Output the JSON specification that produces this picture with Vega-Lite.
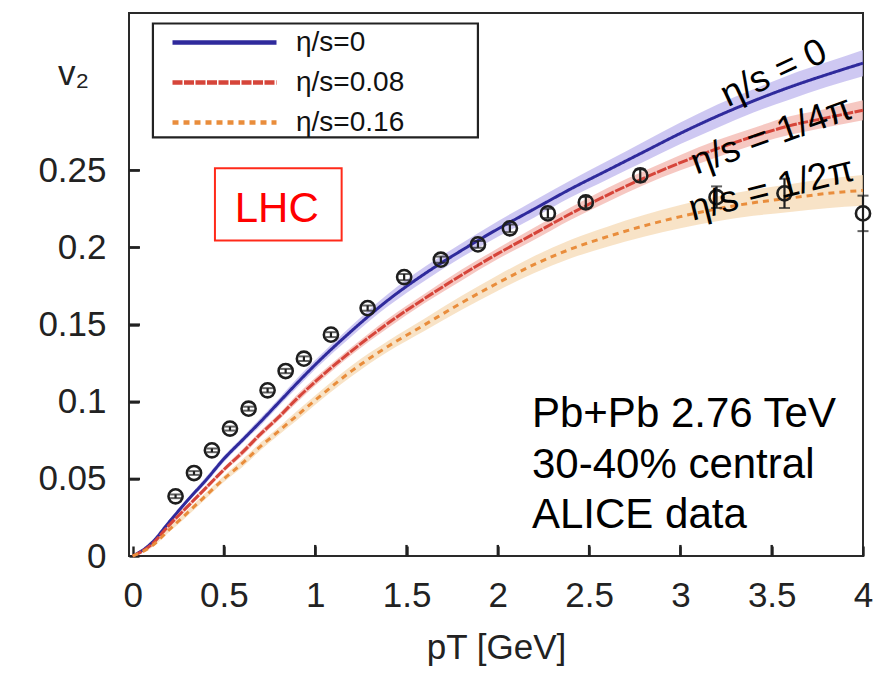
{
  "$schema": "https://vega.github.io/schema/vega-lite/v6.json",
  "width": 734,
  "height": 543,
  "autosize": {"type": "none"},
  "padding": {"left": 129, "top": 13, "right": 24, "bottom": 123},
  "background": "white",
  "config": {
    "font": "Liberation Sans",
    "view": {"stroke": "#2a2a2a", "strokeWidth": 2},
    "axis": {
      "domain": false,
      "grid": false,
      "ticks": true,
      "tickSize": 10,
      "tickWidth": 2.4,
      "tickColor": "#222222",
      "tickOpacity": 1,
      "offset": -10,
      "zindex": 3,
      "labelFont": "Liberation Sans",
      "labelFontSize": 35,
      "labelColor": "#222222",
      "labelFlush": false,
      "labelOverlap": false,
      "labelBound": false,
      "titleFont": "Liberation Sans",
      "titleFontSize": 35,
      "titleFontWeight": "normal",
      "titleColor": "#222222"
    }
  },
  "datasets": {
    "curves": [
      {"model": "η/s=0", "pt": 0, "v2": 0, "lo": 0, "hi": 0},
      {"model": "η/s=0", "pt": 0.1, "v2": 0.008, "lo": 0.007, "hi": 0.009},
      {"model": "η/s=0", "pt": 0.2, "v2": 0.022, "lo": 0.0205, "hi": 0.0235},
      {"model": "η/s=0", "pt": 0.3, "v2": 0.036, "lo": 0.0345, "hi": 0.0375},
      {"model": "η/s=0", "pt": 0.4, "v2": 0.049, "lo": 0.047, "hi": 0.051},
      {"model": "η/s=0", "pt": 0.5, "v2": 0.063, "lo": 0.061, "hi": 0.065},
      {"model": "η/s=0", "pt": 0.6, "v2": 0.075, "lo": 0.073, "hi": 0.077},
      {"model": "η/s=0", "pt": 0.7, "v2": 0.087, "lo": 0.0845, "hi": 0.0895},
      {"model": "η/s=0", "pt": 0.8, "v2": 0.0995, "lo": 0.097, "hi": 0.102},
      {"model": "η/s=0", "pt": 0.9, "v2": 0.112, "lo": 0.109, "hi": 0.115},
      {"model": "η/s=0", "pt": 1.0, "v2": 0.124, "lo": 0.121, "hi": 0.127},
      {"model": "η/s=0", "pt": 1.2, "v2": 0.146, "lo": 0.1425, "hi": 0.1495},
      {"model": "η/s=0", "pt": 1.4, "v2": 0.166, "lo": 0.162, "hi": 0.170},
      {"model": "η/s=0", "pt": 1.6, "v2": 0.183, "lo": 0.1785, "hi": 0.1875},
      {"model": "η/s=0", "pt": 1.8, "v2": 0.198, "lo": 0.1935, "hi": 0.2025},
      {"model": "η/s=0", "pt": 2.0, "v2": 0.212, "lo": 0.207, "hi": 0.217},
      {"model": "η/s=0", "pt": 2.2, "v2": 0.225, "lo": 0.2195, "hi": 0.2305},
      {"model": "η/s=0", "pt": 2.4, "v2": 0.238, "lo": 0.2325, "hi": 0.2435},
      {"model": "η/s=0", "pt": 2.6, "v2": 0.250, "lo": 0.244, "hi": 0.256},
      {"model": "η/s=0", "pt": 2.8, "v2": 0.262, "lo": 0.2555, "hi": 0.2685},
      {"model": "η/s=0", "pt": 3.0, "v2": 0.274, "lo": 0.267, "hi": 0.281},
      {"model": "η/s=0", "pt": 3.2, "v2": 0.285, "lo": 0.2775, "hi": 0.2925},
      {"model": "η/s=0", "pt": 3.4, "v2": 0.295, "lo": 0.2875, "hi": 0.3025},
      {"model": "η/s=0", "pt": 3.6, "v2": 0.304, "lo": 0.296, "hi": 0.312},
      {"model": "η/s=0", "pt": 3.8, "v2": 0.312, "lo": 0.304, "hi": 0.320},
      {"model": "η/s=0", "pt": 4.0, "v2": 0.3195, "lo": 0.311, "hi": 0.328},
      {"model": "η/s=0.08", "pt": 0, "v2": 0, "lo": 0, "hi": 0},
      {"model": "η/s=0.08", "pt": 0.1, "v2": 0.007, "lo": 0.006, "hi": 0.008},
      {"model": "η/s=0.08", "pt": 0.2, "v2": 0.020, "lo": 0.0185, "hi": 0.0215},
      {"model": "η/s=0.08", "pt": 0.3, "v2": 0.032, "lo": 0.0305, "hi": 0.0335},
      {"model": "η/s=0.08", "pt": 0.4, "v2": 0.044, "lo": 0.0425, "hi": 0.0455},
      {"model": "η/s=0.08", "pt": 0.5, "v2": 0.056, "lo": 0.0545, "hi": 0.0575},
      {"model": "η/s=0.08", "pt": 0.6, "v2": 0.067, "lo": 0.065, "hi": 0.069},
      {"model": "η/s=0.08", "pt": 0.7, "v2": 0.079, "lo": 0.077, "hi": 0.081},
      {"model": "η/s=0.08", "pt": 0.8, "v2": 0.090, "lo": 0.088, "hi": 0.092},
      {"model": "η/s=0.08", "pt": 0.9, "v2": 0.102, "lo": 0.0995, "hi": 0.1045},
      {"model": "η/s=0.08", "pt": 1.0, "v2": 0.113, "lo": 0.1105, "hi": 0.1155},
      {"model": "η/s=0.08", "pt": 1.2, "v2": 0.133, "lo": 0.1305, "hi": 0.1355},
      {"model": "η/s=0.08", "pt": 1.4, "v2": 0.151, "lo": 0.148, "hi": 0.154},
      {"model": "η/s=0.08", "pt": 1.6, "v2": 0.167, "lo": 0.164, "hi": 0.170},
      {"model": "η/s=0.08", "pt": 1.8, "v2": 0.182, "lo": 0.1785, "hi": 0.1855},
      {"model": "η/s=0.08", "pt": 2.0, "v2": 0.196, "lo": 0.1925, "hi": 0.1995},
      {"model": "η/s=0.08", "pt": 2.2, "v2": 0.209, "lo": 0.205, "hi": 0.213},
      {"model": "η/s=0.08", "pt": 2.4, "v2": 0.222, "lo": 0.218, "hi": 0.226},
      {"model": "η/s=0.08", "pt": 2.6, "v2": 0.234, "lo": 0.2295, "hi": 0.2385},
      {"model": "η/s=0.08", "pt": 2.8, "v2": 0.245, "lo": 0.2405, "hi": 0.2495},
      {"model": "η/s=0.08", "pt": 3.0, "v2": 0.255, "lo": 0.250, "hi": 0.260},
      {"model": "η/s=0.08", "pt": 3.2, "v2": 0.264, "lo": 0.2585, "hi": 0.2695},
      {"model": "η/s=0.08", "pt": 3.4, "v2": 0.272, "lo": 0.2665, "hi": 0.2775},
      {"model": "η/s=0.08", "pt": 3.6, "v2": 0.279, "lo": 0.273, "hi": 0.285},
      {"model": "η/s=0.08", "pt": 3.8, "v2": 0.284, "lo": 0.278, "hi": 0.290},
      {"model": "η/s=0.08", "pt": 4.0, "v2": 0.289, "lo": 0.2825, "hi": 0.2955},
      {"model": "η/s=0.16", "pt": 0, "v2": 0, "lo": 0, "hi": 0},
      {"model": "η/s=0.16", "pt": 0.1, "v2": 0.006, "lo": 0.005, "hi": 0.007},
      {"model": "η/s=0.16", "pt": 0.2, "v2": 0.017, "lo": 0.0155, "hi": 0.0185},
      {"model": "η/s=0.16", "pt": 0.3, "v2": 0.028, "lo": 0.026, "hi": 0.030},
      {"model": "η/s=0.16", "pt": 0.4, "v2": 0.039, "lo": 0.037, "hi": 0.041},
      {"model": "η/s=0.16", "pt": 0.5, "v2": 0.050, "lo": 0.048, "hi": 0.052},
      {"model": "η/s=0.16", "pt": 0.6, "v2": 0.060, "lo": 0.0575, "hi": 0.0625},
      {"model": "η/s=0.16", "pt": 0.7, "v2": 0.071, "lo": 0.0685, "hi": 0.0735},
      {"model": "η/s=0.16", "pt": 0.8, "v2": 0.081, "lo": 0.0785, "hi": 0.0835},
      {"model": "η/s=0.16", "pt": 0.9, "v2": 0.091, "lo": 0.088, "hi": 0.094},
      {"model": "η/s=0.16", "pt": 1.0, "v2": 0.101, "lo": 0.098, "hi": 0.104},
      {"model": "η/s=0.16", "pt": 1.2, "v2": 0.120, "lo": 0.1165, "hi": 0.1235},
      {"model": "η/s=0.16", "pt": 1.4, "v2": 0.136, "lo": 0.1325, "hi": 0.1395},
      {"model": "η/s=0.16", "pt": 1.6, "v2": 0.150, "lo": 0.146, "hi": 0.154},
      {"model": "η/s=0.16", "pt": 1.8, "v2": 0.164, "lo": 0.1595, "hi": 0.1685},
      {"model": "η/s=0.16", "pt": 2.0, "v2": 0.177, "lo": 0.172, "hi": 0.182},
      {"model": "η/s=0.16", "pt": 2.2, "v2": 0.189, "lo": 0.1835, "hi": 0.1945},
      {"model": "η/s=0.16", "pt": 2.4, "v2": 0.199, "lo": 0.193, "hi": 0.205},
      {"model": "η/s=0.16", "pt": 2.6, "v2": 0.207, "lo": 0.2005, "hi": 0.2135},
      {"model": "η/s=0.16", "pt": 2.8, "v2": 0.214, "lo": 0.207, "hi": 0.221},
      {"model": "η/s=0.16", "pt": 3.0, "v2": 0.220, "lo": 0.2125, "hi": 0.2275},
      {"model": "η/s=0.16", "pt": 3.2, "v2": 0.225, "lo": 0.217, "hi": 0.233},
      {"model": "η/s=0.16", "pt": 3.4, "v2": 0.229, "lo": 0.2205, "hi": 0.2375},
      {"model": "η/s=0.16", "pt": 3.6, "v2": 0.232, "lo": 0.223, "hi": 0.241},
      {"model": "η/s=0.16", "pt": 3.8, "v2": 0.235, "lo": 0.2255, "hi": 0.2445},
      {"model": "η/s=0.16", "pt": 4.0, "v2": 0.237, "lo": 0.227, "hi": 0.247}
    ],
    "alice": [
      {"pt": 0.235, "v2": 0.0387, "lo": 0.0375, "hi": 0.0399},
      {"pt": 0.336, "v2": 0.0538, "lo": 0.0526, "hi": 0.0550},
      {"pt": 0.434, "v2": 0.0685, "lo": 0.0673, "hi": 0.0697},
      {"pt": 0.533, "v2": 0.0826, "lo": 0.0813, "hi": 0.0839},
      {"pt": 0.635, "v2": 0.0955, "lo": 0.0942, "hi": 0.0968},
      {"pt": 0.739, "v2": 0.1074, "lo": 0.1060, "hi": 0.1088},
      {"pt": 0.838, "v2": 0.1199, "lo": 0.1185, "hi": 0.1213},
      {"pt": 0.938, "v2": 0.1279, "lo": 0.1264, "hi": 0.1294},
      {"pt": 1.086, "v2": 0.1435, "lo": 0.1419, "hi": 0.1451},
      {"pt": 1.287, "v2": 0.1607, "lo": 0.1590, "hi": 0.1624},
      {"pt": 1.487, "v2": 0.1808, "lo": 0.1788, "hi": 0.1828},
      {"pt": 1.688, "v2": 0.1921, "lo": 0.1901, "hi": 0.1941},
      {"pt": 1.891, "v2": 0.2020, "lo": 0.1998, "hi": 0.2042},
      {"pt": 2.066, "v2": 0.2124, "lo": 0.2099, "hi": 0.2149},
      {"pt": 2.274, "v2": 0.2221, "lo": 0.2191, "hi": 0.2251},
      {"pt": 2.482, "v2": 0.2292, "lo": 0.2257, "hi": 0.2327},
      {"pt": 2.780, "v2": 0.2467, "lo": 0.2427, "hi": 0.2507},
      {"pt": 3.198, "v2": 0.2326, "lo": 0.2256, "hi": 0.2396},
      {"pt": 3.570, "v2": 0.2351, "lo": 0.2256, "hi": 0.2446},
      {"pt": 4.000, "v2": 0.2221, "lo": 0.2106, "hi": 0.2336}
    ],
    "xticks": [
      {"pt": 0.5, "v2": 0.0036}, {"pt": 1, "v2": 0.0036}, {"pt": 1.5, "v2": 0.0036}, {"pt": 2, "v2": 0.0036},
      {"pt": 2.5, "v2": 0.0036}, {"pt": 3, "v2": 0.0036}, {"pt": 3.5, "v2": 0.0036}
    ],
    "yticks": [
      {"pt": 0.01, "v2": 0.05}, {"pt": 0.01, "v2": 0.1}, {"pt": 0.01, "v2": 0.15}, {"pt": 0.01, "v2": 0.2}, {"pt": 0.01, "v2": 0.25}
    ]
  },
  "layer": [
    {
      "data": {"values": [{"x1": 0.111, "x2": 1.891, "y1": 0.2714, "y2": 0.3452}]},
      "mark": {"type": "rect", "fill": "white", "stroke": "#222222", "strokeWidth": 2.2},
      "encoding": {
        "x": {"field": "x1", "type": "quantitative", "scale": {"domain": [-0.02, 4.0], "nice": false, "zero": false},
              "axis": {"values": [0, 0.5, 1, 1.5, 2, 2.5, 3, 3.5, 4], "format": "~g", "labelPadding": 22, "title": "pT [GeV]", "titlePadding": 17}},
        "x2": {"field": "x2"},
        "y": {"field": "y1", "type": "quantitative", "scale": {"domain": [0, 0.352], "nice": false, "zero": false},
              "axis": {"values": [0, 0.05, 0.1, 0.15, 0.2, 0.25], "format": "~g", "labelPadding": 23, "title": "v₂", "titleAngle": 0, "titleX": -66, "titleY": 60, "titleAlign": "center", "titleBaseline": "middle"}},
        "y2": {"field": "y2"}
      }
    },
    {
      "data": {"name": "xticks"},
      "mark": {"type": "tick", "orient": "vertical", "color": "#222222", "size": 11, "thickness": 2.4, "opacity": 1},
      "encoding": {
        "x": {"field": "pt", "type": "quantitative"},
        "y": {"field": "v2", "type": "quantitative"}
      }
    },
    {
      "data": {"name": "yticks"},
      "mark": {"type": "tick", "orient": "horizontal", "color": "#222222", "size": 11, "thickness": 2.4, "opacity": 1},
      "encoding": {
        "x": {"field": "pt", "type": "quantitative"},
        "y": {"field": "v2", "type": "quantitative"}
      }
    },
    {
      "data": {"name": "curves"},
      "transform": [{"filter": "datum.model === 'η/s=0'"}],
      "mark": {"type": "area", "interpolate": "monotone", "color": "#bdb6ee", "opacity": 0.75},
      "encoding": {
        "x": {"field": "pt", "type": "quantitative"},
        "y": {"field": "lo", "type": "quantitative"},
        "y2": {"field": "hi"}
      }
    },
    {
      "data": {"name": "curves"},
      "transform": [{"filter": "datum.model === 'η/s=0.08'"}],
      "mark": {"type": "area", "interpolate": "monotone", "color": "#f3b6ad", "opacity": 0.75},
      "encoding": {
        "x": {"field": "pt", "type": "quantitative"},
        "y": {"field": "lo", "type": "quantitative"},
        "y2": {"field": "hi"}
      }
    },
    {
      "data": {"name": "curves"},
      "transform": [{"filter": "datum.model === 'η/s=0.16'"}],
      "mark": {"type": "area", "interpolate": "monotone", "color": "#f6d9b4", "opacity": 0.75},
      "encoding": {
        "x": {"field": "pt", "type": "quantitative"},
        "y": {"field": "lo", "type": "quantitative"},
        "y2": {"field": "hi"}
      }
    },
    {
      "data": {"name": "curves"},
      "mark": {"type": "line", "interpolate": "monotone", "strokeWidth": 3},
      "encoding": {
        "x": {"field": "pt", "type": "quantitative"},
        "y": {"field": "v2", "type": "quantitative"},
        "stroke": {"field": "model", "type": "nominal",
          "scale": {"domain": ["η/s=0", "η/s=0.08", "η/s=0.16"], "range": ["#2f2a9c", "#d6453a", "#e98d3c"]},
          "legend": {"orient": "none", "legendX": 44, "legendY": 14, "zindex": 2, "title": null, "symbolType": "M-4,0H4", "symbolSize": 676, "symbolStrokeWidth": 4.5, "symbolOffset": 36, "labelOffset": 56, "rowPadding": 10, "labelFontSize": 28, "labelFont": "Liberation Sans", "labelColor": "#111111", "padding": 0}},
        "strokeDash": {"field": "model", "type": "nominal",
          "scale": {"domain": ["η/s=0", "η/s=0.08", "η/s=0.16"], "range": [[1, 0], [10, 1.5], [6, 5]]},
          "legend": {"orient": "none", "legendX": 44, "legendY": 14, "zindex": 2, "title": null, "symbolType": "M-4,0H4", "symbolSize": 676, "symbolStrokeWidth": 4.5, "symbolOffset": 36, "labelOffset": 56, "rowPadding": 10, "labelFontSize": 28, "labelFont": "Liberation Sans", "labelColor": "#111111", "padding": 0}}
      }
    },
    {
      "data": {"name": "alice"},
      "mark": {"type": "rule", "color": "#1e1e1e", "strokeWidth": 2.2},
      "encoding": {
        "x": {"field": "pt", "type": "quantitative"},
        "y": {"field": "lo", "type": "quantitative"},
        "y2": {"field": "hi"}
      }
    },
    {
      "data": {"name": "alice"},
      "mark": {"type": "tick", "orient": "horizontal", "color": "#1e1e1e", "size": 11, "thickness": 2},
      "encoding": {
        "x": {"field": "pt", "type": "quantitative"},
        "y": {"field": "lo", "type": "quantitative"}
      }
    },
    {
      "data": {"name": "alice"},
      "mark": {"type": "tick", "orient": "horizontal", "color": "#1e1e1e", "size": 11, "thickness": 2},
      "encoding": {
        "x": {"field": "pt", "type": "quantitative"},
        "y": {"field": "hi", "type": "quantitative"}
      }
    },
    {
      "data": {"name": "alice"},
      "mark": {"type": "point", "shape": "circle", "filled": false, "size": 200, "stroke": "#1e1e1e", "strokeWidth": 2.6, "opacity": 1},
      "encoding": {
        "x": {"field": "pt", "type": "quantitative"},
        "y": {"field": "v2", "type": "quantitative"}
      }
    },
    {
      "data": {"values": [{"pt": 3.512, "v2": 0.3128, "t": "η/s = 0"}]},
      "mark": {"type": "text", "angle": 335, "align": "center", "baseline": "middle", "fontSize": 37, "font": "Liberation Sans", "color": "#000000"},
      "encoding": {
        "x": {"field": "pt", "type": "quantitative"},
        "y": {"field": "v2", "type": "quantitative"},
        "text": {"field": "t"}
      }
    },
    {
      "data": {"values": [{"pt": 3.5, "v2": 0.2725, "t": "η/s = 1/4π"}]},
      "mark": {"type": "text", "angle": 340, "align": "center", "baseline": "middle", "fontSize": 37, "font": "Liberation Sans", "color": "#000000"},
      "encoding": {
        "x": {"field": "pt", "type": "quantitative"},
        "y": {"field": "v2", "type": "quantitative"},
        "text": {"field": "t"}
      }
    },
    {
      "data": {"values": [{"pt": 3.5, "v2": 0.2375, "t": "η/s = 1/2π"}]},
      "mark": {"type": "text", "angle": 346, "align": "center", "baseline": "middle", "fontSize": 37, "font": "Liberation Sans", "color": "#000000"},
      "encoding": {
        "x": {"field": "pt", "type": "quantitative"},
        "y": {"field": "v2", "type": "quantitative"},
        "text": {"field": "t"}
      }
    },
    {
      "data": {"values": [{"x1": 0.4507, "x2": 1.1446, "y1": 0.2046, "y2": 0.2513}]},
      "mark": {"type": "rect", "fill": "white", "stroke": "#ff2a1a", "strokeWidth": 2},
      "encoding": {
        "x": {"field": "x1", "type": "quantitative"},
        "x2": {"field": "x2"},
        "y": {"field": "y1", "type": "quantitative"},
        "y2": {"field": "y2"}
      }
    },
    {
      "data": {"values": [{"pt": 0.789, "v2": 0.2165, "t": "LHC"}]},
      "mark": {"type": "text", "align": "center", "baseline": "alphabetic", "fontSize": 42, "font": "Liberation Sans", "color": "#ff0000"},
      "encoding": {
        "x": {"field": "pt", "type": "quantitative"},
        "y": {"field": "v2", "type": "quantitative"},
        "text": {"field": "t"}
      }
    },
    {
      "data": {"values": [{"pt": 2.187, "v2": 0.0834, "t": "Pb+Pb 2.76 TeV\n30-40% central\nALICE data"}]},
      "mark": {"type": "text", "align": "left", "baseline": "alphabetic", "fontSize": 42, "font": "Liberation Sans", "color": "#000000", "lineBreak": "\n", "lineHeight": 50.5},
      "encoding": {
        "x": {"field": "pt", "type": "quantitative"},
        "y": {"field": "v2", "type": "quantitative"},
        "text": {"field": "t"}
      }
    }
  ]
}
